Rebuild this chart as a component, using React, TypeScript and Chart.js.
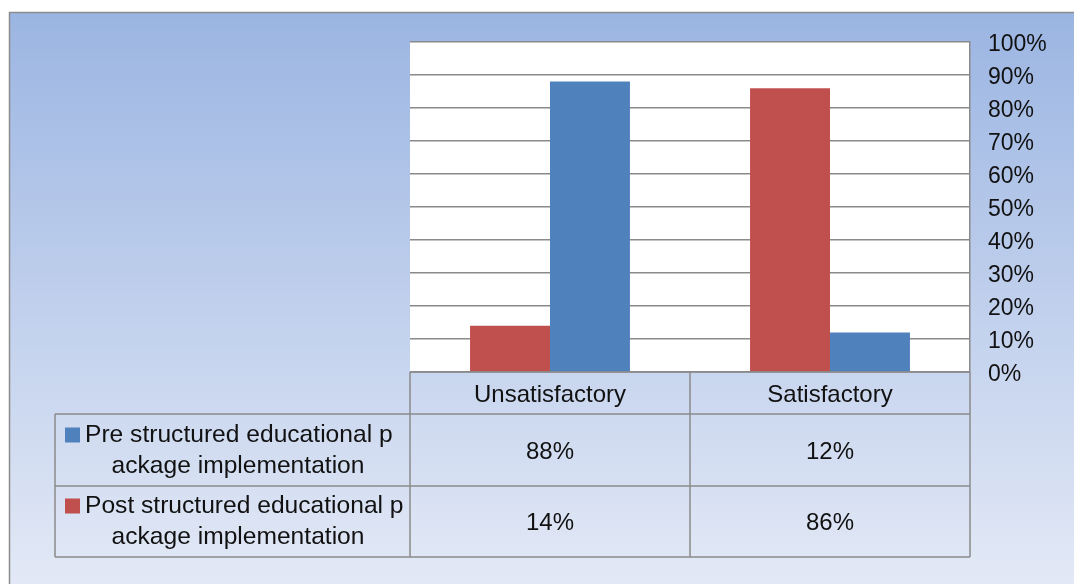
import React, { useEffect, useRef } from "react";
import { Chart, registerables } from "chart.js";

Chart.register(...registerables);

const categories = ["Unsatisfactory", "Satisfactory"];
const preValues = [88, 12];
const postValues = [14, 86];
const preLabelLines = ["Pre structured educational p", "ackage implementation"];
const postLabelLines = ["Post structured educational p", "ackage implementation"];
const preColor = "#4F81BD";
const postColor = "#C0504D";

const FONT = "'Liberation Sans', Arial, sans-serif";
const GRID = "#8a8a8a";

const backgroundPlugin = {
  id: "bgPlugin",
  beforeDraw(chart: any) {
    const { ctx, chartArea, width, height } = chart;
    ctx.save();
    const g = ctx.createLinearGradient(0, 12, 0, height);
    g.addColorStop(0, "#9BB5E2");
    g.addColorStop(1, "#E3E9F6");
    ctx.fillStyle = g;
    ctx.fillRect(9, 12, width - 9, height - 12);
    ctx.strokeStyle = "#8c8c8c";
    ctx.lineWidth = 1.5;
    ctx.beginPath();
    ctx.moveTo(9.5, height);
    ctx.lineTo(9.5, 12.5);
    ctx.lineTo(width, 12.5);
    ctx.stroke();
    ctx.fillStyle = "#ffffff";
    ctx.fillRect(chartArea.left, chartArea.top, chartArea.right - chartArea.left, chartArea.bottom - chartArea.top);
    ctx.restore();
  },
};

const tablePlugin = {
  id: "tablePlugin",
  afterDraw(chart: any) {
    const { ctx, chartArea } = chart;
    const xs = chart.scales.x;
    const L = chartArea.left;
    const R = chartArea.right;
    const c0 = xs.getPixelForValue(0);
    const c1 = xs.getPixelForValue(1);
    const mid = (c0 + c1) / 2;
    const legendLeft = 55;
    const top = chartArea.bottom;
    const headerBottom = 414;
    const row1Bottom = 486;
    const row2Bottom = 557;

    ctx.save();
    ctx.strokeStyle = GRID;
    ctx.lineWidth = 1.5;
    ctx.beginPath();
    ctx.moveTo(L, top); ctx.lineTo(R, top);
    ctx.moveTo(legendLeft, headerBottom); ctx.lineTo(R, headerBottom);
    ctx.moveTo(legendLeft, row1Bottom); ctx.lineTo(R, row1Bottom);
    ctx.moveTo(legendLeft, row2Bottom); ctx.lineTo(R, row2Bottom);
    ctx.moveTo(legendLeft, headerBottom); ctx.lineTo(legendLeft, row2Bottom);
    ctx.moveTo(L, top); ctx.lineTo(L, row2Bottom);
    ctx.moveTo(mid, top); ctx.lineTo(mid, row2Bottom);
    ctx.moveTo(R, top); ctx.lineTo(R, row2Bottom);
    ctx.stroke();

    ctx.fillStyle = "#111";
    ctx.font = `24px ${FONT}`;
    ctx.textAlign = "center";
    ctx.textBaseline = "middle";
    const centers = [c0, c1];
    categories.forEach((c, i) => ctx.fillText(c, centers[i], (top + headerBottom) / 2 + 2));
    const r1c = (headerBottom + row1Bottom) / 2 + 2;
    const r2c = (row1Bottom + row2Bottom) / 2 + 2;
    preValues.forEach((v, i) => ctx.fillText(v + "%", centers[i], r1c));
    postValues.forEach((v, i) => ctx.fillText(v + "%", centers[i], r2c));

    ctx.font = `24.6px ${FONT}`;
    const drawLegend = (lines: string[], color: string, y1: number, y2: number) => {
      const box = 15;
      const start = 65;
      ctx.fillStyle = color;
      ctx.fillRect(start, y1 - box / 2, box, box);
      ctx.fillStyle = "#111";
      ctx.textAlign = "left";
      ctx.fillText(lines[0], 85, y1);
      ctx.textAlign = "center";
      ctx.fillText(lines[1], 238, y2);
    };
    drawLegend(preLabelLines, preColor, 435, 466);
    drawLegend(postLabelLines, postColor, 506, 537);
    ctx.restore();
  },
};

export default function App() {
  const ref = useRef<HTMLCanvasElement | null>(null);
  useEffect(() => {
    if (!ref.current) return;
    const chart = new Chart(ref.current, {
      type: "bar",
      data: {
        labels: categories,
        datasets: [
          { label: postLabelLines.join(""), data: postValues, backgroundColor: postColor, barPercentage: 1, categoryPercentage: 0.571 },
          { label: preLabelLines.join(""), data: preValues, backgroundColor: preColor, barPercentage: 1, categoryPercentage: 0.571 },
        ],
      },
      options: {
        responsive: false,
        animation: false,
        layout: { padding: { left: 410, top: 42, bottom: 212, right: 0 } },
        plugins: { legend: { display: false }, tooltip: { enabled: false } },
        scales: {
          x: { display: false },
          y: {
            position: "right",
            min: 0,
            max: 100,
            afterFit: (s: any) => { s.width = 104; },
            ticks: {
              stepSize: 10,
              padding: 18,
              labelOffset: 3,
              color: "#111",
              font: { family: FONT, size: 23 },
              callback: (v: any) => v + "%",
            },
            grid: { color: GRID, lineWidth: 1.5, drawTicks: false },
            border: { display: true, color: GRID, width: 1.5 },
          },
        },
      },
      plugins: [backgroundPlugin, tablePlugin],
    });
    return () => chart.destroy();
  }, []);
  return (
    <canvas
      ref={ref}
      width={1074}
      height={584}
      style={{ position: "absolute", left: 0, top: 0, width: 1074, height: 584 }}
    />
  );
}
